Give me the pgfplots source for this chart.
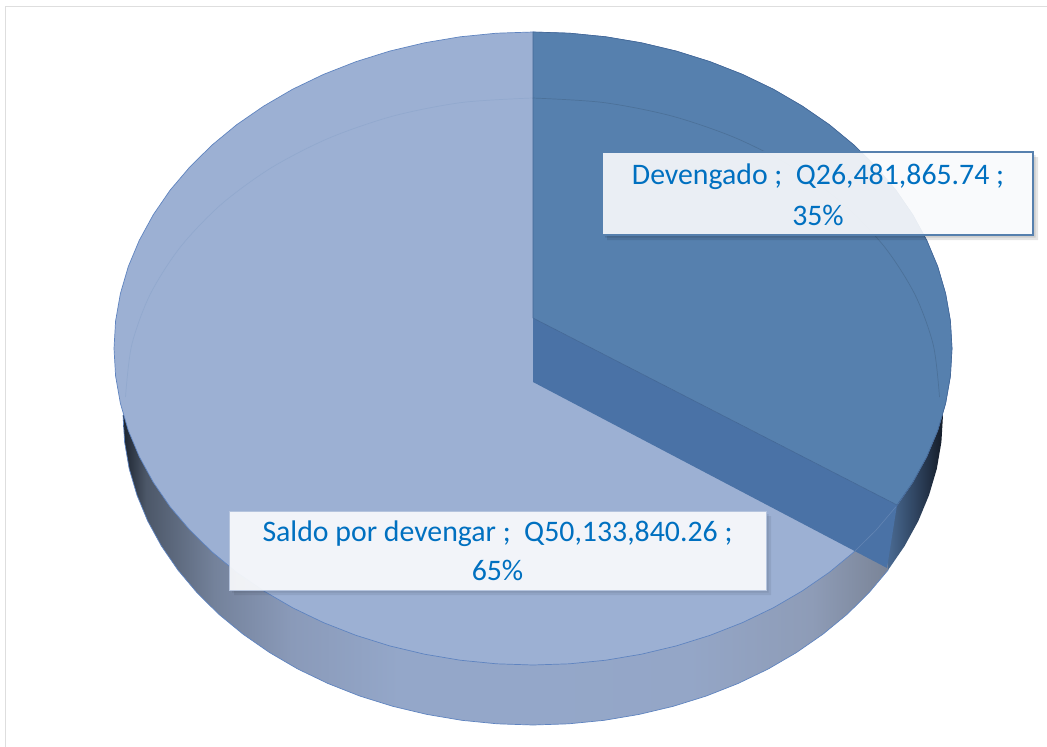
\documentclass[border=0pt]{standalone}
\usepackage{pgfplots}
\pgfplotsset{compat=1.18}
\usepackage{fontspec}
\setmainfont{Carlito}
\definecolor{slicedark}{HTML}{5680AE}
\definecolor{slicelight}{HTML}{9CB0D3}
\definecolor{wedge}{HTML}{4A72A6}
\definecolor{edgeblue}{HTML}{5F84C0}
\definecolor{labelblue}{HTML}{0070C0}
\definecolor{boxfill}{HTML}{F9FAFC}
\definecolor{frameline}{HTML}{DEDEDE}
\definecolor{wa}{HTML}{1C2430}
\definecolor{wb}{HTML}{4C5768}
\definecolor{wc}{HTML}{74829B}
\definecolor{wd}{HTML}{8A9AB9}
\definecolor{we}{HTML}{94A7C9}
\definecolor{wf}{HTML}{94A6C7}
\definecolor{wg}{HTML}{8E9CB7}
\definecolor{wh}{HTML}{7A8497}
\definecolor{ra}{HTML}{4A6A92}
\definecolor{rb}{HTML}{2F4460}
\definecolor{rc}{HTML}{141C28}
\pgfdeclarehorizontalshading{wallmain}{100bp}{%
 color(0bp)=(wa); color(25bp)=(wa); color(26.5bp)=(wb); color(31bp)=(wc);
 color(36bp)=(wd); color(43bp)=(we); color(52bp)=(we); color(62bp)=(wf);
 color(70bp)=(wg); color(75bp)=(wh); color(100bp)=(wh)}
\pgfdeclarehorizontalshading{wallright}{100bp}{%
 color(0bp)=(ra); color(25bp)=(ra); color(50bp)=(rb); color(75bp)=(rc); color(100bp)=(rc)}
\begin{document}
\begin{tikzpicture}
\begin{axis}[
  width=1047pt, height=747pt, scale only axis, hide axis,
  xmin=0, xmax=1047, ymin=0, ymax=747, y dir=reverse, clip=true,
]
% page
\addplot[draw=none, fill=white] coordinates {(0,0) (1047,0) (1047,747) (0,747)} --cycle;
% frame
\addplot[frameline, line width=1.3pt] coordinates {(5.5,747) (5.5,6.5) (1047,6.5)};
% wall, left and front
\addplot[draw=none, shade, shading=wallmain] coordinates {
 (123,415) (124.6,442) (129.2,468.8) (137,495.2) (147.7,521) (161.4,546) (177.9,570)
 (197.1,592.8) (218.9,614.3) (243.1,634.2) (269.5,652.5) (297.8,669) (328,683.5)
 (359.7,696) (392.8,706.3) (426.9,714.4) (461.8,720.3) (497.2,723.8) (533,725)
 (568.8,723.8) (604.2,720.3) (639.1,714.4) (673.2,706.3) (706.3,696) (738,683.5)
 (768.2,669) (796.5,652.5) (822.9,634.2) (847.1,614.3) (868.9,592.8) (888.1,570)
 (888.1,415)} --cycle;
% wall, right
\addplot[draw=none, shade, shading=wallright] coordinates {
 (888.1,570) (904.6,546) (918.3,521) (929,495.2) (936.8,468.8) (941.4,442) (943,415)
 (888.1,415)} --cycle;
% wall outline
\addplot[edgeblue, line width=0.7pt] coordinates {
 (123,415) (124.6,442) (129.2,468.8) (137,495.2) (147.7,521) (161.4,546) (177.9,570)
 (197.1,592.8) (218.9,614.3) (243.1,634.2) (269.5,652.5) (297.8,669) (328,683.5)
 (359.7,696) (392.8,706.3) (426.9,714.4) (461.8,720.3) (497.2,723.8) (533,725)
 (568.8,723.8) (604.2,720.3) (639.1,714.4) (673.2,706.3) (706.3,696) (738,683.5)
 (768.2,669) (796.5,652.5) (822.9,634.2) (847.1,614.3) (868.9,592.8) (888.1,570)};
% top, light slice: whole ellipse
\addplot[draw=edgeblue, line width=0.7pt, fill=slicelight] coordinates {
 (533,32) (569.5,33.2) (605.8,36.8) (641.4,42.8) (676.3,51.1) (710.1,61.7) (742.5,74.4)
 (773.3,89.2) (802.3,106.1) (829.3,124.7) (854,145.1) (876.2,167) (895.9,190.2)
 (912.7,214.7) (926.7,240.3) (937.7,266.6) (945.6,293.6) (950.4,320.9) (952,348.5)
 (950.4,376.1) (945.6,403.4) (937.7,430.4) (926.7,456.7) (912.7,482.3) (895.9,506.8)
 (876.2,530) (854,551.9) (829.3,572.3) (802.3,590.9) (773.3,607.8) (742.5,622.6)
 (710.1,635.3) (676.3,645.9) (641.4,654.2) (605.8,660.2) (569.5,663.8) (533,665)
 (496.5,663.8) (460.2,660.2) (424.6,654.2) (389.7,645.9) (355.9,635.3) (323.5,622.6)
 (292.7,607.8) (263.7,590.9) (236.7,572.3) (212,551.9) (189.8,530) (170.1,506.8)
 (153.3,482.3) (139.3,456.7) (128.3,430.4) (120.4,403.4) (115.6,376.1) (114,348.5)
 (115.6,320.9) (120.4,293.6) (128.3,266.6) (139.3,240.3) (153.3,214.7) (170.1,190.2)
 (189.8,167) (212,145.1) (236.7,124.7) (263.7,106.1) (292.7,89.2) (323.5,74.4)
 (355.9,61.7) (389.7,51.1) (424.6,42.8) (460.2,36.8) (496.5,33.2)} --cycle;
% wedge face
\addplot[draw=none, fill=wedge] coordinates {(533,318) (897,505) (887,568) (533,382)} --cycle;
% top, dark slice
\addplot[draw=wedge!90!black, line width=0.6pt, fill=slicedark] coordinates {
 (533,32) (569.5,33.2) (605.8,36.8) (641.4,42.8) (676.3,51.1) (710.1,61.7) (742.5,74.4)
 (773.3,89.2) (802.3,106.1) (829.3,124.7) (854,145.1) (876.2,167) (895.9,190.2)
 (912.7,214.7) (926.7,240.3) (937.7,266.6) (945.6,293.6) (950.4,320.9) (952,348.5)
 (950.4,376.1) (945.6,403.4) (937.7,430.4) (926.7,456.7) (912.7,482.3) (897,505)
 (533,318)} --cycle;
% faint rim on the wedge
\addplot[color=wedge!70!slicelight, line width=0.6pt] coordinates {(895.9,506.8) (876.2,530) (854,551.9)};
% inner bevel line
\addplot[color=slicelight!88!wedge, line width=0.7pt, smooth] coordinates {
 (125.5,397) (131.7,345.1) (150,294.7) (180,247.5) (220.7,204.8) (270.9,168)
 (329,138.1) (393.3,116) (461.8,102.5) (532.5,98)};
\addplot[color=slicedark!88!black, line width=0.7pt, smooth] coordinates {
 (532.5,98) (603.2,102.5) (671.7,116) (736,138.1) (794.1,168) (844.3,204.8)
 (885,247.5) (915,294.7) (933.3,345.1) (939.5,397)};
% label 1: shadow, box
\addplot[draw=none, fill=black, fill opacity=0.10] coordinates {(607,235) (1033,235) (1033,157) (1038,157) (1038,240) (607,240)} --cycle;
\addplot[draw=none, fill=black, fill opacity=0.10] coordinates {(605,235) (1033,235) (1033,155) (1035.5,155) (1035.5,237.5) (605,237.5)} --cycle;
\addplot[draw=slicedark, line width=1.1pt, fill=boxfill, fill opacity=0.91] coordinates {(602.5,152) (1033,152) (1033,235) (602.5,235)} --cycle;
% label 2: shadow, box
\addplot[draw=none, fill=black, fill opacity=0.07] coordinates {(234,590) (766,590) (766,516) (771,516) (771,595) (234,595)} --cycle;
\addplot[draw=none, fill=black, fill opacity=0.07] coordinates {(232,590) (766,590) (766,514) (768.5,514) (768.5,592.5) (232,592.5)} --cycle;
\addplot[draw=slicelight!75!white, line width=1pt, fill=boxfill, fill opacity=0.93] coordinates {(229.5,511.5) (766,511.5) (766,590) (229.5,590)} --cycle;
% texts
\node[text=labelblue, font=\fontsize{29.8}{34}\selectfont, inner sep=0pt] at (axis cs:818,177) {Devengado ;\ \ Q26,481,865.74 ;};
\node[text=labelblue, font=\fontsize{29.8}{34}\selectfont, inner sep=0pt] at (axis cs:818,215) {35\%};
\node[text=labelblue, font=\fontsize{29.8}{34}\selectfont, inner sep=0pt] at (axis cs:497.5,534) {Saldo por devengar ;\ \ Q50,133,840.26 ;};
\node[text=labelblue, font=\fontsize{29.8}{34}\selectfont, inner sep=0pt] at (axis cs:497.5,570) {65\%};
\end{axis}
\end{tikzpicture}
\end{document}
